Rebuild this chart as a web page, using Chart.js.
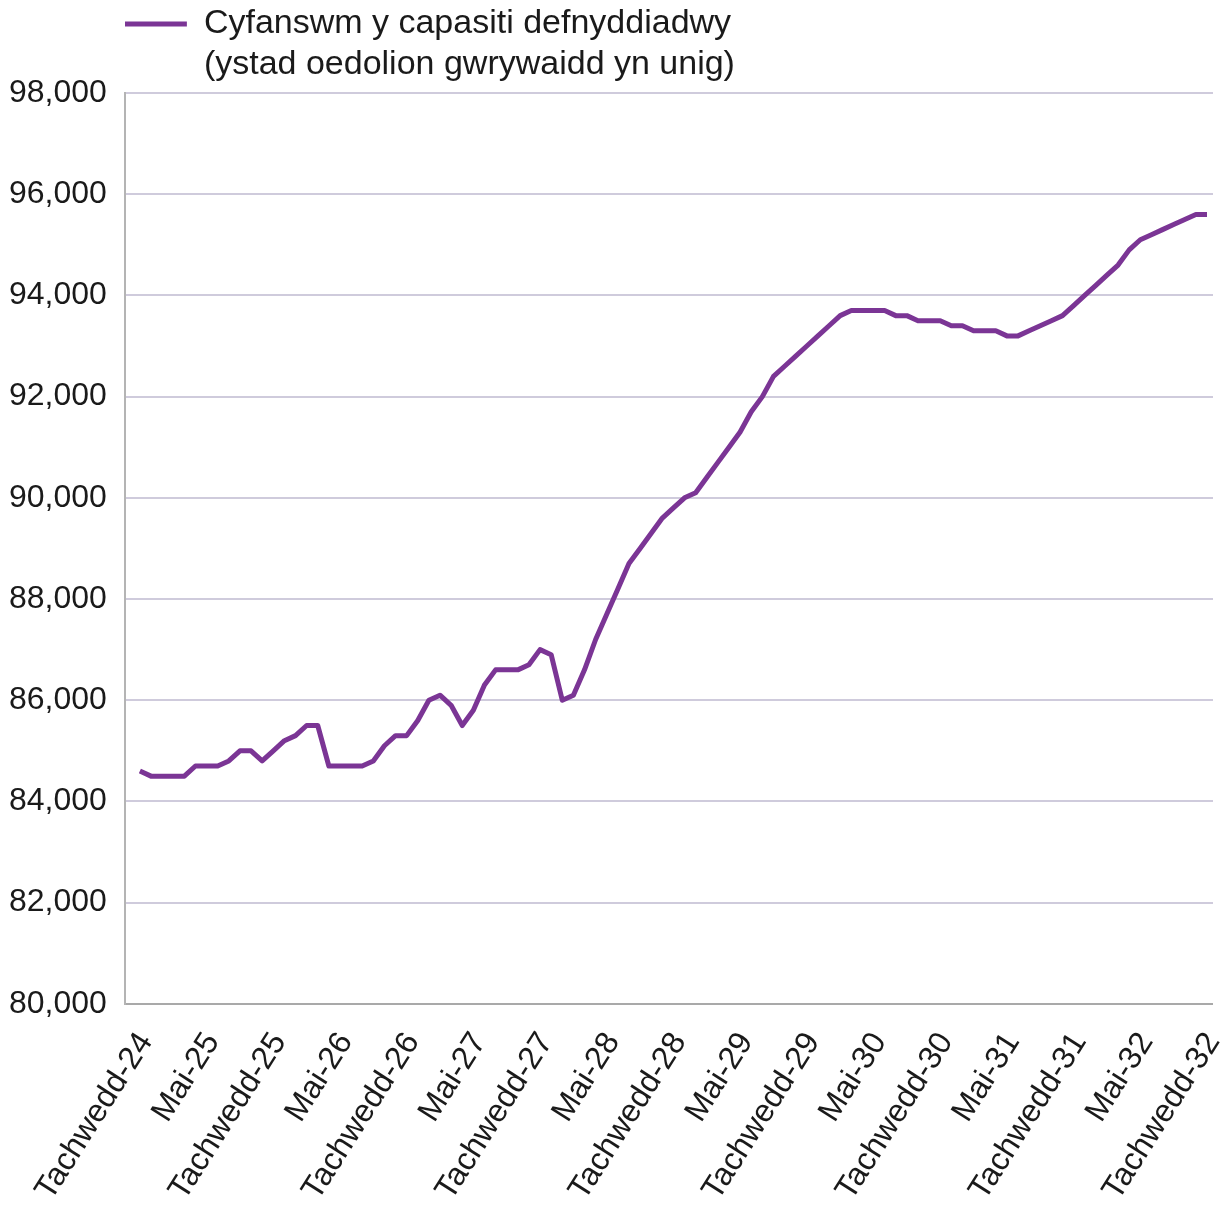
<!DOCTYPE html>
<html>
<head>
<meta charset="utf-8">
<script src="https://cdn.jsdelivr.net/npm/chart.js@4"></script>
<style>
	html, body { margin: 0; padding: 0; background: #fff; }
	#wrap { width: 1220px; height: 1211px; position: relative; }
</style>
</head>
<body>
<div id="wrap"><canvas id="capacity_chart"></canvas></div>
<script>
const MONTHS = [
	'Tachwedd-24', 'Rhagfyr-24',
	'Ionawr-25', 'Chwefror-25', 'Mawrth-25', 'Ebrill-25', 'Mai-25', 'Mehefin-25', 'Gorffennaf-25', 'Awst-25', 'Medi-25', 'Hydref-25', 'Tachwedd-25', 'Rhagfyr-25',
	'Ionawr-26', 'Chwefror-26', 'Mawrth-26', 'Ebrill-26', 'Mai-26', 'Mehefin-26', 'Gorffennaf-26', 'Awst-26', 'Medi-26', 'Hydref-26', 'Tachwedd-26', 'Rhagfyr-26',
	'Ionawr-27', 'Chwefror-27', 'Mawrth-27', 'Ebrill-27', 'Mai-27', 'Mehefin-27', 'Gorffennaf-27', 'Awst-27', 'Medi-27', 'Hydref-27', 'Tachwedd-27', 'Rhagfyr-27',
	'Ionawr-28', 'Chwefror-28', 'Mawrth-28', 'Ebrill-28', 'Mai-28', 'Mehefin-28', 'Gorffennaf-28', 'Awst-28', 'Medi-28', 'Hydref-28', 'Tachwedd-28', 'Rhagfyr-28',
	'Ionawr-29', 'Chwefror-29', 'Mawrth-29', 'Ebrill-29', 'Mai-29', 'Mehefin-29', 'Gorffennaf-29', 'Awst-29', 'Medi-29', 'Hydref-29', 'Tachwedd-29', 'Rhagfyr-29',
	'Ionawr-30', 'Chwefror-30', 'Mawrth-30', 'Ebrill-30', 'Mai-30', 'Mehefin-30', 'Gorffennaf-30', 'Awst-30', 'Medi-30', 'Hydref-30', 'Tachwedd-30', 'Rhagfyr-30',
	'Ionawr-31', 'Chwefror-31', 'Mawrth-31', 'Ebrill-31', 'Mai-31', 'Mehefin-31', 'Gorffennaf-31', 'Awst-31', 'Medi-31', 'Hydref-31', 'Tachwedd-31', 'Rhagfyr-31',
	'Ionawr-32', 'Chwefror-32', 'Mawrth-32', 'Ebrill-32', 'Mai-32', 'Mehefin-32', 'Gorffennaf-32', 'Awst-32', 'Medi-32', 'Hydref-32', 'Tachwedd-32'
];

// usable operational capacity, one value per month
const CAPACITY = [
	84600, 84500,
	84500, 84500, 84500, 84700, 84700, 84700, 84800, 85000, 85000, 84800, 85000, 85200,
	85300, 85500, 85500, 84700, 84700, 84700, 84700, 84800, 85100, 85300, 85300, 85600,
	86000, 86100, 85900, 85500, 85800, 86300, 86600, 86600, 86600, 86700, 87000, 86900,
	86000, 86100, 86600, 87200, 87700, 88200, 88700, 89000, 89300, 89600, 89800, 90000,
	90100, 90400, 90700, 91000, 91300, 91700, 92000, 92400, 92600, 92800, 93000, 93200,
	93400, 93600, 93700, 93700, 93700, 93700, 93600, 93600, 93500, 93500, 93500, 93400,
	93400, 93300, 93300, 93300, 93200, 93200, 93300, 93400, 93500, 93600, 93800, 94000,
	94200, 94400, 94600, 94900, 95100, 95200, 95300, 95400, 95500, 95600, 95600
];

const LEGEND_LINES = ['Cyfanswm y capasiti defnyddiadwy', '(ystad oedolion gwrywaidd yn unig)'];

const Y_MIN = 80000;
const Y_MAX = 98000;
const Y_STEP = 2000;
const LABEL_STEP = 6;

const FONT = "'Liberation Sans', Arial, Helvetica, sans-serif";
const PURPLE = '#7b3595';

// legend only measures one line of a two-line label, so give it the room
const legendGap = {
	id: 'legendGap',
	beforeInit(chart) {
		const fit = chart.legend.fit;
		chart.legend.fit = function () {
			fit.bind(chart.legend)();
			this.height += 42;
		};
	}
};

const data = {
	datasets: [
		{
			label: LEGEND_LINES,
			data: CAPACITY.map((v, i) => ({ x: i, y: v })),
			borderColor: PURPLE,
			backgroundColor: PURPLE,
			borderWidth: 5,
			borderJoinStyle: 'round',
			pointRadius: 0,
			tension: 0
		}
	]
};

const config = {
	type: 'line',
	data: data,
	plugins: [legendGap],
	options: {
		responsive: true,
		maintainAspectRatio: false,
		animation: false,
		layout: { padding: { top: 7, left: -9, right: 7, bottom: -10 } },
		plugins: {
			tooltip: { enabled: false },
			legend: {
				position: 'top',
				align: 'start',
				fullSize: false,
				labels: {
					boxWidth: 62,
					boxHeight: 5,
					padding: 0,
					color: '#1a1a1a',
					font: { family: FONT, size: 34, lineHeight: 1.2 },
					generateLabels(chart) {
						return Chart.defaults.plugins.legend.labels.generateLabels(chart).map(item => {
							item.lineWidth = 0;
							return item;
						});
					}
				}
			}
		},
		scales: {
			x: {
				type: 'linear',
				min: -1.35,
				max: CAPACITY.length - 1 + 0.54,
				grid: { display: false },
				border: { display: false },
				afterFit(scale) {
					scale.paddingLeft = 0;
					scale.paddingRight = 0;
				},
				ticks: {
					stepSize: LABEL_STEP,
					includeBounds: false,
					autoSkip: false,
					minRotation: 57.5,
					maxRotation: 57.5,
					padding: 14,
					labelOffset: 6,
					color: '#1a1a1a',
					font: { family: FONT, size: 32 },
					callback: (value) => MONTHS[value] || ''
				}
			},
			y: {
				min: Y_MIN,
				max: Y_MAX,
				grid: {
					color: (ctx) => ctx.tick && ctx.tick.value === Y_MIN ? '#a9a9a9' : '#cfcbdc',
					lineWidth: 2,
					drawTicks: false
				},
				border: { display: true, color: '#b4b4b4', width: 2 },
				ticks: {
					stepSize: Y_STEP,
					padding: 18,
					color: '#1a1a1a',
					font: { family: FONT, size: 32 }
				}
			}
		}
	}
};

const capacityChart = new Chart(document.getElementById('capacity_chart'), config);
</script>
</body>
</html>
